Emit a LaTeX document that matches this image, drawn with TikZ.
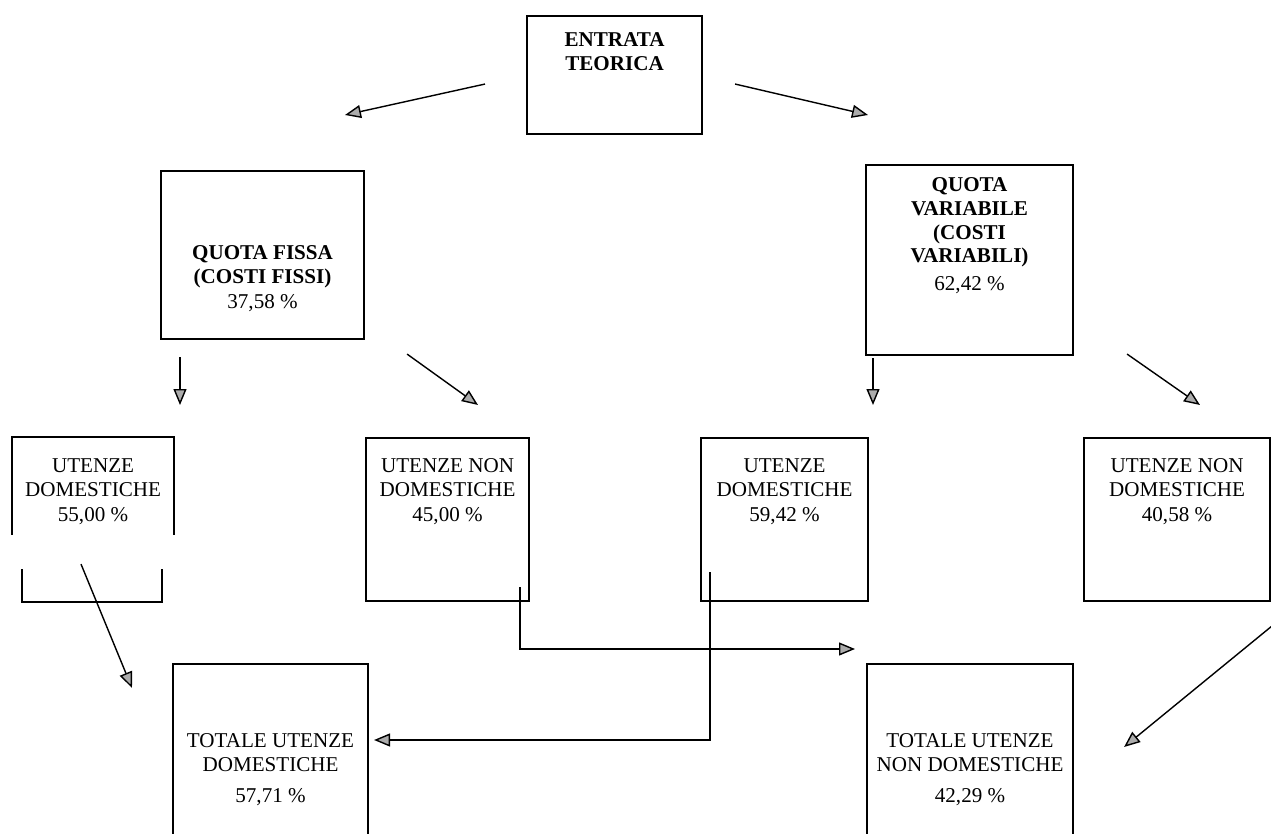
\documentclass[tikz,border=0pt]{standalone}
\usepackage{fontspec}
\setmainfont{Liberation Serif}
\usetikzlibrary{arrows.meta,positioning}

\begin{document}
\begin{tikzpicture}[x=0.02cm, y=-0.02cm,
    every node/.append style={font=\fontsize{12}{13.6}\selectfont},
    box/.style={draw, line width=1.2pt, anchor=north west, inner sep=0pt},
    flow/.style={line width=0.8pt, -{Triangle[length=0.32cm,width=0.26cm,fill=gray!65]}}]
  \tikzstyle{txt} = [align=center, anchor=north, inner sep=0pt]
  \tikzstyle{head} = [txt, font=\fontsize{12}{13.6}\selectfont\bfseries]
  \clip (0,0) rectangle (1271,834);
  % boxes
  \node [box, minimum width=3.5cm, minimum height=2.36cm] (entrata) at (526,15) {};
  \node [box, minimum width=4.06cm, minimum height=3.36cm] (fissa) at (160,170) {};
  \node [box, minimum width=4.14cm, minimum height=3.8cm] (variabile) at (865,164) {};
  \node [box, draw=none, minimum width=3.2cm, minimum height=3.26cm] (domF) at (12,437) {};
  \node [box, minimum width=3.26cm, minimum height=3.26cm] (nondomF) at (365,437) {};
  \node [box, minimum width=3.34cm, minimum height=3.26cm] (domV) at (700,437) {};
  \node [box, minimum width=3.72cm, minimum height=3.26cm] (nondomV) at (1083,437) {};
  \node [box, minimum width=3.9cm, minimum height=4.8cm] (totdom) at (172,663) {};
  \node [box, minimum width=4.12cm, minimum height=4.8cm] (totnondom) at (866,663) {};
  % the split box on the left
  \draw [line width=1.2pt] ([yshift=-1.96cm]domF.north west) |- (domF.north east) -- ++(0,98);
  \draw [line width=1.2pt] ([shift={(10,-33)}]domF.south west) |- ([shift={(-12,0)}]domF.south east) -- ++(0,-33);
  % texts
  \node [head, below=0.34cm of entrata.north] (entrataT) {ENTRATA\\TEORICA};
  \node [head, below=1.5cm of fissa.north] (fissaT) {QUOTA FISSA\\(COSTI FISSI)\\[1pt]\mdseries 37,58 \%};
  \node [head, below=0.26cm of variabile.north] (variabileT) {QUOTA\\VARIABILE\\(COSTI\\VARIABILI)\\[2pt]\mdseries 62,42 \%};
  \node [txt, below=0.42cm of domF.north] (domFT) {UTENZE\\DOMESTICHE\\[1pt]55,00 \%};
  \node [txt, below=0.42cm of nondomF.north] (nondomFT) {UTENZE NON\\DOMESTICHE\\[1pt]45,00 \%};
  \node [txt, below=0.42cm of domV.north] (domVT) {UTENZE\\DOMESTICHE\\[1pt]59,42 \%};
  \node [txt, below=0.42cm of nondomV.north] (nondomVT) {UTENZE NON\\DOMESTICHE\\[1pt]40,58 \%};
  \node [txt, below=1.4cm of totdom.north] (totdomT) {TOTALE UTENZE\\DOMESTICHE\\[4pt]57,71 \%};
  \node [txt, below=1.4cm of totnondom.north] (totnondomT) {TOTALE UTENZE\\NON DOMESTICHE\\[4pt]42,29 \%};
  % arrows
  \draw [flow] ([shift={(-41,9)}]entrata.west) -- ([shift={(185,-55)}]fissa.north west);
  \draw [flow] ([shift={(32,9)}]entrata.east) -- ([shift={(3,-49)}]variabile.north west);
  \draw [flow] ([shift={(20,17)}]fissa.south west) -- ([shift={(168,-32)}]domF.north west);
  \draw [flow] ([shift={(42,14)}]fissa.south east) -- ([shift={(113,-32)}]nondomF.north west);
  \draw [flow] ([shift={(8,2)}]variabile.south west) -- ([shift={(173,-32)}]domV.north west);
  \draw [flow] ([shift={(53,-2)}]variabile.south east) -- ([shift={(117,-32)}]nondomV.north west);
  \draw [flow] ([shift={(69,-38)}]domF.south west) -- ([shift={(-40,25)}]totdom.north west);
  \draw [flow] ([shift={(-10,-15)}]nondomF.south east) |- ([shift={(-11,-14)}]totnondom.north west);
  \draw [flow] ([shift={(10,-30)}]domV.south west) |- ([shift={(5,77)}]totdom.north east);
  \draw [flow] ([shift={(2,23)}]nondomV.south east) -- ([shift={(50,84)}]totnondom.north east);
\end{tikzpicture}
\end{document}
